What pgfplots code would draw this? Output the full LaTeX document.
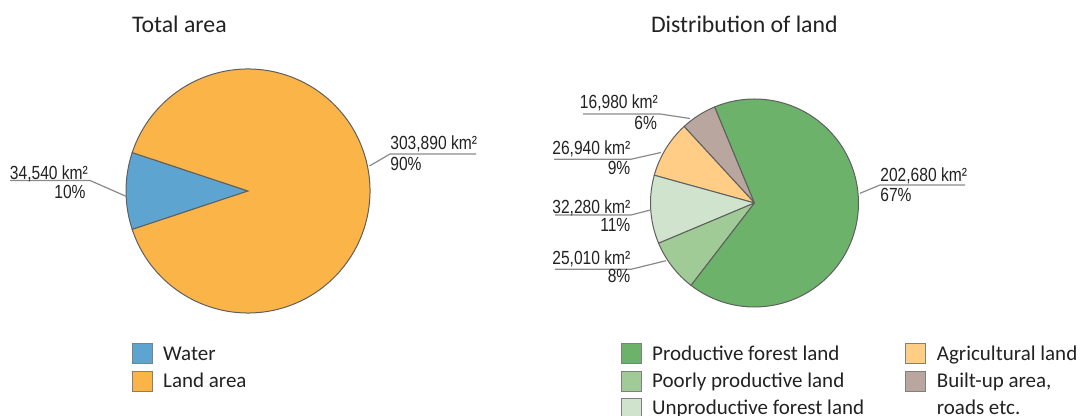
\documentclass[border=0pt]{standalone}
\usepackage{pgfplots}
\pgfplotsset{compat=1.18}
\usepackage{fontspec}
\setmainfont{Carlito}
\newfontfamily\narrow[FakeStretch=0.82]{Liberation Sans}

\definecolor{cWater}{HTML}{5DA4D1}
\definecolor{cLand}{HTML}{FBB447}
\definecolor{cProd}{HTML}{6DB26A}
\definecolor{cPoor}{HTML}{A0CB96}
\definecolor{cUnprod}{HTML}{D0E4CD}
\definecolor{cAgri}{HTML}{FFCD86}
\definecolor{cBuilt}{HTML}{B8A69F}
\definecolor{edge}{HTML}{5F5F5F}
\definecolor{lead}{HTML}{8A8A8A}
\definecolor{txt}{HTML}{222222}

\pgfplotsset{
  pie/.style={scale only axis, hide axis, clip=false, anchor=center,
    xmin=-1, xmax=1, ymin=-1, ymax=1,
    legend cell align=left,
    legend style={draw=none, fill=none, inner sep=0pt, outer sep=0pt,
      anchor=north west, font=\fontsize{10.5}{13.6}\selectfont, text=txt,
      nodes={inner sep=0pt, text height=10pt, text depth=3.6pt},
      cells={anchor=west}},
    legend image code/.code={
      \path[fill=none, draw=none] (0pt,-5pt) rectangle (15.5pt,5pt);
      \draw[draw=edge!80, line width=0.5pt, ##1] (0pt,-5pt) rectangle (10pt,5pt);},
  },
}
% start angle, delta angle, colour, radius
\newcommand\slice[4]{%
  \filldraw[fill=#3, draw=edge, line width=0.5pt]
    (axis cs:0,0) -- (axis cs:{cos(#1)},{sin(#1)})
    arc[start angle=#1, delta angle=#2, radius=#4] -- cycle;}

\begin{document}
\begin{tikzpicture}
\useasboundingbox (0,0) rectangle (541.5pt,208pt);

% --- Total area (km2) ---
\edef\tA{\fpeval{34540+303890}}
\edef\dW{\fpeval{round(360*34540/\tA,4)}}
\edef\dL{\fpeval{round(360*303890/\tA,4)}}
\edef\sW{\fpeval{180-\dW/2}}
\edef\sL{\fpeval{\sW+\dW}}

\begin{axis}[pie, at={(124pt,112.5pt)}, width=122pt, height=122pt,
  legend style={at={(0.0234,-0.1123)}}]
  \slice{\sW}{\dW}{cWater}{61pt}
  \slice{\sL}{\dL}{cLand}{61pt}
  \addlegendimage{fill=cWater}\addlegendentry{Water}
  \addlegendimage{fill=cLand}\addlegendentry{Land area}
\end{axis}

% --- Distribution of land (km2) ---
\edef\tB{\fpeval{202680+25010+32280+26940+16980}}
\edef\dB{\fpeval{round(360*16980/\tB,4)}}
\edef\dA{\fpeval{round(360*26940/\tB,4)}}
\edef\dU{\fpeval{round(360*32280/\tB,4)}}
\edef\dPo{\fpeval{round(360*25010/\tB,4)}}
\edef\dP{\fpeval{round(360*202680/\tB,4)}}
\edef\sB{112.5}
\edef\sA{\fpeval{\sB+\dB}}
\edef\sU{\fpeval{\sA+\dA}}
\edef\sPo{\fpeval{\sU+\dU}}
\edef\sP{\fpeval{\sPo+\dPo}}

\begin{axis}[pie, at={(377.25pt,106.5pt)}, width=104pt, height=104pt,
  legend columns=2,
  legend style={at={(-0.1433,-0.1606)}}]
  \slice{\sB}{\dB}{cBuilt}{52pt}
  \slice{\sA}{\dA}{cAgri}{52pt}
  \slice{\sU}{\dU}{cUnprod}{52pt}
  \slice{\sPo}{\dPo}{cPoor}{52pt}
  \slice{\sP}{\dP}{cProd}{52pt}
  \addlegendimage{fill=cProd}\addlegendentry{\makebox[126.6pt][l]{Productive forest land}}
  \addlegendimage{fill=cAgri}\addlegendentry{Agricultural land}
  \addlegendimage{fill=cPoor}\addlegendentry{\makebox[126.6pt][l]{Poorly productive land}}
  \addlegendimage{fill=cBuilt}\addlegendentry{\begin{tabular}[t]{@{}l@{}}Built-up area,\\roads etc.\end{tabular}}
  \addlegendimage{fill=cUnprod}\addlegendentry{\makebox[126.6pt][l]{Unproductive forest land}}
\end{axis}

% --- titles, labels and leader lines (pixel units, y down) ---
\begin{scope}[yshift=208pt, x=0.5pt, y=-0.5pt]
  \tikzset{ttl/.style={anchor=base west, inner sep=0pt, text=txt,
      font=\fontsize{11.9}{14}\selectfont},
    lab/.style={inner sep=0pt, text=txt, font=\narrow\fontsize{9.5}{11}\selectfont},
    ld/.style={lead, line width=0.6pt}}
  \node[ttl] at (131.7,33) {Total area};
  \node[ttl] at (650.7,33) {Distribution of land};

  \draw[ld] (10,180.5) -- (90,180.5) -- (126.5,196.5);
  \node[lab, anchor=base east] at (88.3,179.3) {34,540 km²};
  \node[lab, anchor=base east] at (86,198.3) {10\%};

  \draw[ld] (476,154) -- (390,154) -- (369.5,166);
  \node[lab, anchor=base west] at (390,150) {303,890 km²};
  \node[lab, anchor=base west] at (390,171) {90\%};

  \draw[ld] (583,114) -- (660,114) -- (690,118.5);
  \node[lab, anchor=base east] at (658.3,108.3) {16,980 km²};
  \node[lab, anchor=base east] at (657.3,129.3) {6\%};

  \draw[ld] (554,159.3) -- (630.7,159.3) -- (661,152.5);
  \node[lab, anchor=base east] at (630.7,155) {26,940 km²};
  \node[lab, anchor=base east] at (630.7,175) {9\%};

  \draw[ld] (555,215) -- (631,215) -- (650.5,210);
  \node[lab, anchor=base east] at (630.7,213.3) {32,280 km²};
  \node[lab, anchor=base east] at (630.7,231.7) {11\%};

  \draw[ld] (555,269.3) -- (631,269.3) -- (666,260.7);
  \node[lab, anchor=base east] at (630.7,265) {25,010 km²};
  \node[lab, anchor=base east] at (630.7,282.7) {8\%};

  \draw[ld] (965,185) -- (880,185) -- (860,193.3);
  \node[lab, anchor=base west] at (880,181.7) {202,680 km²};
  \node[lab, anchor=base west] at (880,201.7) {67\%};
\end{scope}
\end{tikzpicture}
\end{document}
